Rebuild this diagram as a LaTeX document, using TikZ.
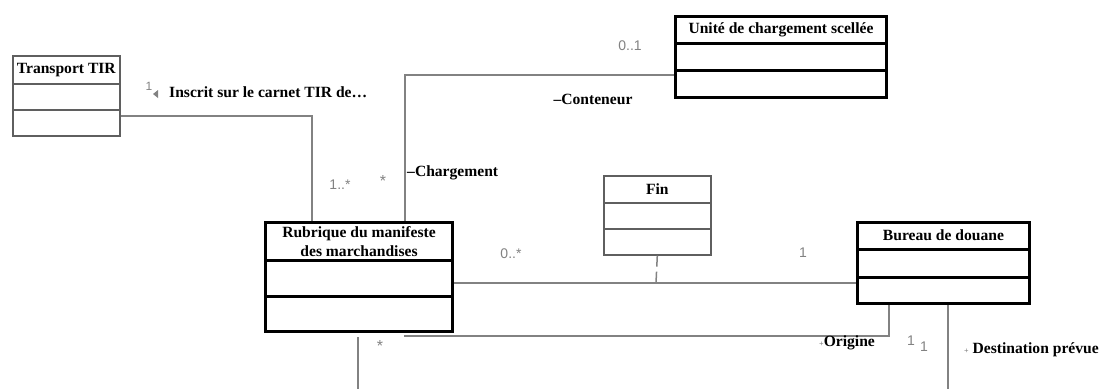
\documentclass[tikz,border=0pt]{standalone}
\usepackage{fontspec}
\setmainfont{Liberation Serif}
\newfontfamily\multfont{Liberation Sans}
\usetikzlibrary{calc, positioning}
\definecolor{linkgray}{RGB}{130,130,130}
\definecolor{boxgray}{RGB}{95,95,95}

\begin{document}
\begin{tikzpicture}[x=1pt, y=-1pt,
  thinclass/.style={draw=boxgray, line width=1.6pt, inner sep=0pt, anchor=north west},
  thickclass/.style={draw=black, line width=3pt, inner sep=0pt, anchor=north west},
  classname/.style={font=\fontsize{15.6}{19}\selectfont\bfseries, align=center, inner sep=0pt},
  rolename/.style={font=\fontsize{15.6}{18}\selectfont\bfseries, inner sep=0pt},
  mult/.style={font=\multfont\fontsize{14}{16}\selectfont, text=linkgray, inner sep=0pt},
  assoc/.style={draw=linkgray, line width=1.5pt}]

  \useasboundingbox (0,0) rectangle (1111,389);

  % les classes
  \node[thinclass, minimum width=107pt, minimum height=80pt] (tir) at (12,55) {};
  \node[thickclass, minimum width=211pt, minimum height=81pt] (unite) at (674,15) {};
  \node[thickclass, minimum width=187pt, minimum height=109pt] (rub) at (264,221) {};
  \node[thinclass, minimum width=107pt, minimum height=79pt] (fin) at (603,175) {};
  \node[thickclass, minimum width=172pt, minimum height=81pt] (bur) at (856,221) {};

  % compartiments
  \foreach \cls/\da/\db/\lw/\col in {tir/29/55/1.6pt/boxgray, fin/28/54/1.6pt/boxgray,
      unite/28/55/3pt/black, rub/39/75/3pt/black, bur/28/56/3pt/black} {
    \draw[line width=\lw, draw=\col]
      ($(\cls.north west)+(0,\da)$) -- ($(\cls.north east)+(0,\da)$)
      ($(\cls.north west)+(0,\db)$) -- ($(\cls.north east)+(0,\db)$);
  }

  % noms des classes
  \node[classname] (tirName) at ($(tir.north)+(0,15)$) {Transport TIR};
  \node[classname] (uniteName) at ($(unite.north)+(0,15)$) {Unité de chargement scellée};
  \node[classname] (rubName) at ($(rub.north)+(0,21)$) {Rubrique du manifeste\\des marchandises};
  \node[classname] (finName) at ($(fin.north)+(0,14)$) {Fin};
  \node[classname] (burName) at ($(bur.north)+(0,14)$) {Bureau de douane};

  % associations
  \coordinate (kTir) at (312,116);
  \draw[assoc] (tir.east |- kTir) -| (rub.north -| kTir);
  \coordinate (kUnite) at (405,75);
  \draw[assoc] (unite.west |- kUnite) -| (rub.north -| kUnite);
  \coordinate (kFin) at (656,283);
  \draw[assoc] (rub.east |- kFin) -- (bur.west |- kFin);
  \draw[assoc, dash pattern=on 11pt off 5pt] (fin.south) -- (kFin);
  \coordinate (kOrig) at (889,336);
  \coordinate (kOrigEnd) at (404,336);
  \draw[assoc] (bur.south -| kOrig) |- (kOrigEnd);
  \coordinate (kDest) at (948,389);
  \draw[assoc] (bur.south -| kDest) -- (kDest);
  \coordinate (kLowTop) at (358,337);
  \coordinate (kLow) at (358,389);
  \draw[assoc] (kLowTop) -- (kLow);

  % multiplicites et roles
  \node[mult, font=\multfont\fontsize{12}{14}\selectfont] (mTir) at (149,86) {1};
  \fill[linkgray] (153,94) -- (158,90) -- (158,98) -- cycle;
  \node[rolename, anchor=west] (inscrit) at (169,92) {Inscrit sur le carnet TIR de…};
  \node[mult] (mUnite) at (630,46) {0..1};
  \node[rolename] (conteneur) at (593,99) {–Conteneur};
  \node[mult] (mRubTir) at (340,185) {1..*};
  \node[mult, font=\multfont\fontsize{16}{18}\selectfont] (mRubUnite) at (383,181) {*};
  \node[rolename, anchor=west] (chargement) at (407,173) {–Chargement};
  \node[mult] (mRubFin) at (511,254) {0..*};
  \node[mult] (mBurFin) at (803,253) {1};
  \node[mult, font=\multfont\fontsize{16}{18}\selectfont] (mRubOrig) at (380,346) {*};
  \node[rolename, anchor=west] (origine) at (819,343) {{\color{linkgray}\footnotesize+}Origine};
  \node[mult] (mOrig) at (911,341) {1};
  \node[mult] (mDest) at (924,347) {1};
  \node[rolename, anchor=west] (destination) at (964,350) {{\color{linkgray}\footnotesize+} Destination prévue};
\end{tikzpicture}
\end{document}
